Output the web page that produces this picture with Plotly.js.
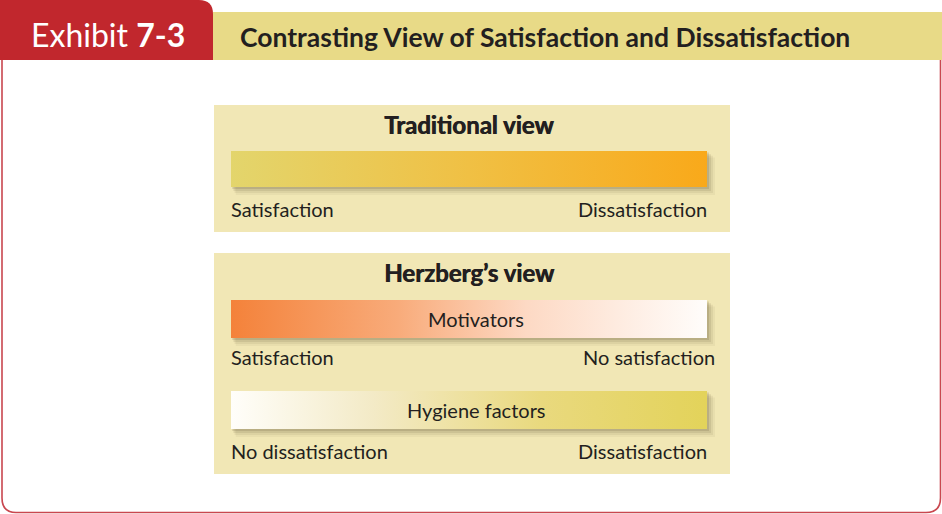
<!DOCTYPE html>
<html>
<head>
<meta charset="utf-8">
<script src="https://cdn.plot.ly/plotly-3.0.1.min.js"></script>
<style>html,body{margin:0;padding:0;background:#fff;}#chart{width:942px;height:514px;}</style>
</head>
<body>
<div id="chart"></div>
<script>
// ---- content ----
const exhibitLabel = "Exhibit";
const exhibitNumber = "7-3";
const chartTitle = "Contrasting View of Satisfaction and Dissatisfaction";
const sectionTitles = ["Traditional view", "Herzberg’s view"];
const barNames = ["", "Motivators", "Hygiene factors"];
const leftLabels = ["Satisfaction", "Satisfaction", "No dissatisfaction"];
const rightLabels = ["Dissatisfaction", "No satisfaction", "Dissatisfaction"];
const barColorscales = [
  [[0, "#e3d56c"], [0.5, "#f0c044"], [1, "#f9a91a"]],
  [[0, "#f4823a"], [0.35, "#f8ab7a"], [0.62, "#fdd9c4"], [1, "#fffdfb"]],
  [[0, "#fffefa"], [0.3, "#f3eac6"], [0.65, "#e9d97e"], [1, "#e3d35a"]]
];

// ---- layout geometry (pixels) ----
const W = 942, H = 514;
const FONT = "Lato, 'Open Sans', sans-serif";
const TXT = "#231f20";
const panels = [{x0: 214, x1: 730, y0: 105, y1: 232, titleY: 124, cx: 469},
                {x0: 214, x1: 730, y0: 253, y1: 474, titleY: 272, cx: 469}];
const bars = [{x0: 231, x1: 707, y0: 151, y1: 187, labY: 209, rightX: 707, cx: 476},
              {x0: 231, x1: 707, y0: 300, y1: 338, labY: 357, rightX: 715, cx: 476},
              {x0: 231, x1: 707, y0: 391, y1: 429, labY: 451, rightX: 707, cx: 476}];

const traces = [];
const shapes = [];
const annotations = [];

// panels
panels.forEach(p => {
  shapes.push({type: "rect", layer: "below", xref: "x", yref: "y", x0: p.x0, x1: p.x1, y0: p.y0, y1: p.y1,
    fillcolor: "#f1e7b5", line: {width: 0}});
});
sectionTitles.forEach((t, i) => {
  const p = panels[i];
  annotations.push({x: p.cx, y: p.titleY, xref: "x", yref: "y", text: "<b>" + t + "</b>",
    showarrow: false, xanchor: "center", yanchor: "middle",
    font: {family: FONT, size: 24, color: TXT, shadow: "0.7px 0 0 #231f20"}});
});

// bars (shadow + gradient)
barNames.forEach((name, i) => {
  const b = bars[i];
  const sh = [[8, 0.05], [6, 0.07], [4, 0.1], [2, 0.14]];
  sh.forEach(([o, a]) => {
    shapes.push({type: "rect", layer: "below", xref: "x", yref: "y",
      x0: b.x0 + o * 0.6, x1: b.x1 + o, y0: b.y0 + o * 0.8, y1: b.y1 + o,
      fillcolor: "rgba(70,60,30," + a + ")", line: {width: 0}});
  });
  traces.push({
    type: "scatter", mode: "lines", x: [b.x0, b.x1, b.x1, b.x0, b.x0], y: [b.y0, b.y0, b.y1, b.y1, b.y0],
    fill: "toself", line: {width: 0, color: "rgba(0,0,0,0)"}, hoverinfo: "skip", showlegend: false,
    fillgradient: {type: "horizontal", colorscale: barColorscales[i], start: b.x0, stop: b.x1}
  });
  if (name) {
    annotations.push({x: b.cx, y: (b.y0 + b.y1) / 2, xref: "x", yref: "y", text: name,
      showarrow: false, xanchor: "center", yanchor: "middle", font: {family: FONT, size: 20, color: TXT}});
  }
  annotations.push({x: b.x0 - 2, y: b.labY, xref: "x", yref: "y", text: leftLabels[i], showarrow: false,
    xanchor: "left", yanchor: "middle", font: {family: FONT, size: 20, color: TXT}});
  annotations.push({x: b.rightX + 2, y: b.labY, xref: "x", yref: "y", text: rightLabels[i], showarrow: false,
    xanchor: "right", yanchor: "middle", font: {family: FONT, size: 20, color: TXT}});
});

// header
shapes.push({type: "rect", layer: "above", xref: "x", yref: "y", x0: 213, x1: 942, y0: 12, y1: 60,
  fillcolor: "#e8da87", line: {width: 0}});
shapes.push({type: "path", layer: "above", xref: "x", yref: "y",
  path: "M0,0 H199 Q213,0 213,14 V60 H0 Z", fillcolor: "#c1272d", line: {width: 0}});
shapes.push({type: "path", layer: "above", xref: "x", yref: "y",
  path: "M2,60 V498 Q2,512.5 16,512.5 H926 Q940.5,512.5 940.5,498 V60",
  line: {color: "#c9474f", width: 1.6}});
annotations.push({x: 29, y: 34, xref: "x", yref: "y", text: exhibitLabel + " <b>" + exhibitNumber + "</b>",
  showarrow: false, xanchor: "left", yanchor: "middle", font: {family: FONT, size: 32, color: "#ffffff"}});
annotations.push({x: 238, y: 37, xref: "x", yref: "y", text: "<b>" + chartTitle + "</b>",
  showarrow: false, xanchor: "left", yanchor: "middle", font: {family: FONT, size: 26.5, color: TXT}});

const layout = {
  width: W, height: H, margin: {l: 0, r: 0, t: 0, b: 0},
  paper_bgcolor: "#ffffff", plot_bgcolor: "#ffffff",
  xaxis: {range: [0, W], visible: false, fixedrange: true},
  yaxis: {range: [H, 0], visible: false, fixedrange: true},
  showlegend: false, shapes: shapes, annotations: annotations
};
Plotly.newPlot("chart", traces, layout, {displayModeBar: false, staticPlot: true});
</script>
</body>
</html>
